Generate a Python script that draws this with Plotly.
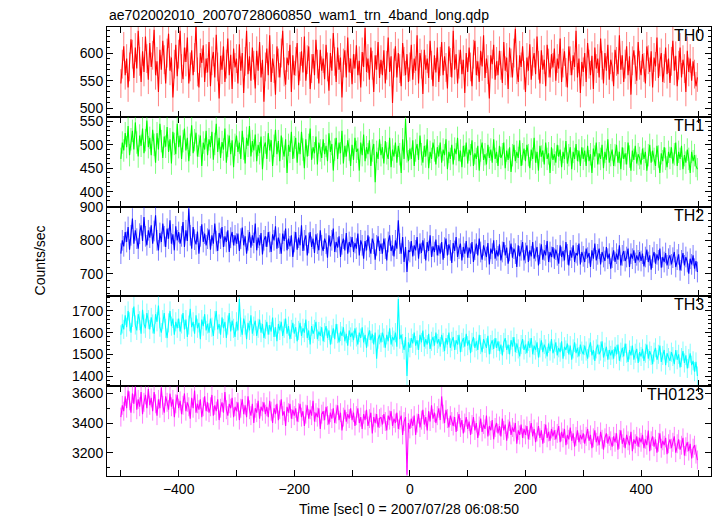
import plotly.graph_objects as go
from plotly.subplots import make_subplots

title_text = "ae702002010_20070728060850_wam1_trn_4band_long.qdp"
band_names = ["TH0", "TH1", "TH2", "TH3", "TH0123"]
x_label = "Time [sec] 0 = 2007/07/28 06:08:50"
y_label = "Counts/sec"

t_start = -500
t_step = 2.5

th0 = [
    545, 580, 612, 560, 590, 538, 575, 625, 598, 555, 610, 572, 640, 585, 548, 603, 566, 630, 590, 552,
    618, 575, 596, 642, 560, 585, 530, 606, 570, 622, 588, 545, 600, 635, 568, 592, 520, 580, 615, 558,
    598, 640, 572, 553, 610, 584, 628, 545, 575, 605, 560, 592, 650, 566, 538, 600, 582, 614, 548, 590,
    565, 620, 540, 586, 602, 556, 633, 575, 518, 595, 570, 612, 548, 580, 626, 560, 597, 535, 608, 574,
    590, 545, 616, 568, 600, 528, 585, 640, 562, 594, 550, 610, 578, 536, 604, 568, 620, 556, 588, 512,
    575, 608, 560, 632, 548, 590, 572, 525, 612, 582, 556, 600, 640, 566, 543, 592, 578, 615, 530, 596,
    560, 585, 618, 542, 576, 603, 565, 630, 550, 588, 612, 535, 572, 598, 560, 624, 580, 545, 606, 568,
    590, 553, 615, 575, 532, 600, 568, 636, 585, 548, 610, 570, 592, 520, 582, 605, 556, 628, 565, 590,
    544, 598, 572, 614, 560, 586, 538, 602, 575, 645, 566, 590, 552, 610, 578, 530, 596, 570, 620, 555,
    588, 560, 605, 545, 578, 628, 566, 594, 510, 582, 612, 556, 600, 572, 540, 618, 585, 560, 598, 548,
    575, 615, 552, 590, 568, 632, 545, 600, 580, 526, 606, 570, 590, 555, 622, 578, 540, 596, 565, 610,
    548, 585, 620, 560, 594, 574, 536, 612, 583, 556, 640, 570, 598, 545, 580, 606, 562, 588, 528, 600,
    566, 610, 575, 540, 598, 622, 560, 585, 548, 604, 576, 632, 555, 590, 570, 518, 596, 580, 615, 552,
    585, 560, 604, 578, 546, 620, 568, 592, 535, 610, 582, 556, 600, 644, 570, 548, 596, 575, 612, 560,
    530, 592, 568, 616, 552, 585, 600, 562, 630, 578, 545, 605, 570, 588, 540, 615, 582, 556, 598, 574,
    608, 550, 590, 572, 626, 548, 582, 603, 565, 538, 612, 586, 560, 596, 575, 640, 556, 590, 528, 584,
    566, 600, 548, 618, 580, 560, 595, 535, 610, 572, 590, 556, 626, 578, 545, 600, 568, 615, 552, 588,
    575, 540, 606, 585, 562, 632, 570, 596, 548, 580, 612, 560, 594, 525, 586, 605, 570, 550, 620, 578,
    560, 598, 574, 545, 612, 588, 566, 603, 538, 592, 576, 628, 555, 584, 600, 548, 572, 610, 562, 590,
    546, 585, 622, 568, 595, 540, 578, 610, 556, 588, 572, 530, 604, 566, 590, 550, 585, 562, 540, 556,
]
th1 = [
    470, 505, 488, 525, 495, 540, 478, 512, 530, 490, 548, 505, 475, 520, 498, 535, 482, 510, 552, 495,
    515, 478, 532, 500, 462, 525, 490, 545, 508, 472, 518, 496, 538, 485, 512, 460, 528, 502, 480, 545,
    495, 520, 470, 508, 535, 488, 515, 465, 500, 542, 482, 510, 526, 475, 498, 520, 455, 505, 490, 530,
    478, 512, 495, 528, 468, 502, 545, 485, 515, 472, 506, 490, 535, 462, 498, 520, 480, 510, 452, 500,
    520, 485, 505, 470, 530, 492, 460, 515, 498, 540, 475, 508, 488, 522, 465, 500, 482, 518, 448, 495,
    505, 470, 525, 488, 510, 455, 498, 532, 480, 508, 465, 520, 492, 475, 512, 440, 500, 485, 528, 470,
    495, 515, 462, 505, 480, 528, 490, 450, 512, 475, 500, 535, 468, 495, 482, 518, 458, 505, 488, 472,
    512, 480, 498, 465, 525, 485, 502, 445, 490, 515, 470, 505, 482, 530, 460, 498, 475, 510, 490, 455,
    500, 468, 515, 485, 492, 445, 505, 478, 522, 465, 495, 480, 510, 455, 488, 502, 420, 485, 470, 512,
    478, 495, 460, 508, 482, 470, 515, 452, 490, 475, 505, 462, 498, 480, 440, 512, 470, 555, 486, 465,
    492, 470, 510, 455, 488, 502, 468, 520, 480, 462, 498, 475, 512, 450, 485, 470, 505, 488, 458, 495,
    475, 505, 462, 490, 478, 512, 448, 485, 470, 500, 458, 492, 480, 515, 465, 488, 452, 498, 475, 505,
    460, 490, 478, 510, 455, 482, 470, 498, 445, 488, 505, 468, 480, 458, 500, 472, 490, 462, 512, 470,
    485, 455, 498, 472, 480, 505, 450, 488, 468, 495, 442, 478, 500, 465, 485, 472, 510, 455, 480, 492,
    465, 500, 478, 450, 490, 470, 515, 462, 485, 445, 498, 475, 488, 458, 505, 470, 482, 440, 495, 468,
    480, 462, 500, 475, 490, 452, 485, 470, 508, 460, 478, 495, 448, 485, 470, 502, 465, 488, 455, 495,
    470, 488, 455, 498, 465, 480, 440, 492, 475, 505, 458, 482, 470, 500, 450, 485, 468, 512, 462, 478,
    490, 455, 478, 500, 462, 485, 448, 495, 470, 482, 458, 505, 475, 445, 488, 468, 498, 460, 480, 472,
    458, 492, 470, 485, 445, 478, 500, 462, 488, 470, 455, 498, 475, 440, 482, 465, 495, 470, 452, 485,
    472, 495, 460, 480, 505, 455, 485, 470, 498, 448, 478, 462, 490, 470, 440, 485, 465, 478, 455, 448,
]
th2 = [
    760, 800, 782, 825, 795, 840, 772, 815, 865, 790, 830, 805, 775, 820, 845, 798, 870, 812, 785, 830,
    808, 845, 790, 828, 875, 800, 770, 822, 795, 850, 812, 780, 835, 805, 860, 790, 818, 770, 842, 800,
    825, 790, 812, 855, 780, 830, 798, 895, 815, 775, 840, 802, 788, 826, 760, 812, 848, 795, 820, 785,
    805, 832, 772, 815, 790, 850, 798, 768, 822, 805, 840, 780, 812, 795, 830, 765, 808, 825, 785, 815,
    790, 820, 768, 805, 838, 785, 812, 760, 800, 825, 778, 815, 792, 850, 770, 808, 785, 822, 758, 800,
    812, 780, 825, 795, 765, 818, 800, 842, 775, 808, 790, 760, 820, 798, 835, 770, 805, 782, 815, 750,
    795, 825, 772, 808, 785, 845, 768, 800, 815, 755, 792, 825, 780, 805, 762, 818, 790, 770, 830, 785,
    768, 805, 790, 748, 815, 782, 800, 835, 765, 795, 778, 812, 750, 788, 805, 770, 822, 760, 795, 780,
    810, 765, 792, 775, 820, 755, 800, 785, 745, 798, 770, 815, 780, 760, 805, 790, 742, 785, 812, 768,
    790, 760, 805, 775, 740, 795, 815, 768, 785, 752, 800, 775, 860, 790, 760, 810, 735, 780, 705, 770,
    765, 798, 752, 785, 770, 810, 745, 790, 762, 800, 775, 740, 795, 768, 815, 750, 782, 765, 802, 755,
    785, 760, 795, 742, 778, 805, 755, 788, 770, 732, 792, 768, 810, 750, 775, 790, 740, 780, 760, 798,
    748, 778, 760, 795, 735, 772, 790, 755, 805, 765, 742, 785, 770, 750, 792, 728, 775, 760, 800, 745,
    770, 752, 788, 740, 765, 795, 755, 778, 730, 768, 790, 748, 775, 760, 720, 785, 752, 770, 795, 740,
    762, 785, 735, 770, 752, 795, 745, 768, 780, 725, 760, 788, 742, 770, 755, 798, 735, 765, 750, 780,
    745, 772, 755, 730, 785, 750, 768, 740, 795, 758, 725, 770, 748, 785, 735, 762, 755, 790, 728, 765,
    752, 735, 775, 748, 762, 720, 770, 745, 790, 740, 758, 775, 728, 765, 750, 738, 780, 745, 760, 715,
    748, 770, 735, 760, 742, 785, 725, 755, 768, 738, 750, 775, 720, 760, 745, 770, 732, 755, 740, 765,
    738, 760, 722, 750, 772, 735, 755, 712, 748, 765, 730, 758, 740, 775, 718, 750, 735, 762, 725, 745,
    755, 728, 748, 765, 720, 742, 758, 710, 740, 762, 725, 750, 735, 700, 745, 728, 755, 715, 738, 705,
]
th3 = [
    1590, 1640, 1615, 1680, 1625, 1700, 1650, 1600, 1670, 1720, 1635, 1610, 1685, 1655, 1595, 1705, 1640, 1620, 1690, 1660,
    1615, 1670, 1640, 1595, 1685, 1650, 1725, 1625, 1600, 1660, 1690, 1620, 1575, 1645, 1700, 1630, 1665, 1590, 1650, 1620,
    1665, 1605, 1640, 1690, 1615, 1660, 1580, 1635, 1710, 1625, 1650, 1595, 1680, 1620, 1645, 1570, 1660, 1630, 1685, 1610,
    1640, 1600, 1665, 1625, 1585, 1655, 1700, 1615, 1640, 1590, 1670, 1620, 1650, 1575, 1635, 1690, 1605, 1655, 1620, 1580,
    1650, 1610, 1755, 1625, 1590, 1665, 1635, 1570, 1645, 1610, 1680, 1595, 1630, 1655, 1585, 1620, 1660, 1600, 1640, 1575,
    1615, 1650, 1590, 1635, 1605, 1670, 1580, 1625, 1560, 1640, 1610, 1650, 1585, 1620, 1665, 1595, 1630, 1570, 1615, 1645,
    1595, 1625, 1560, 1610, 1645, 1585, 1620, 1600, 1660, 1575, 1610, 1545, 1630, 1595, 1615, 1650, 1570, 1605, 1585, 1625,
    1560, 1600, 1630, 1575, 1610, 1545, 1590, 1620, 1570, 1640, 1595, 1555, 1605, 1585, 1625, 1560, 1595, 1540, 1610, 1580,
    1600, 1565, 1620, 1580, 1545, 1600, 1575, 1625, 1555, 1590, 1530, 1580, 1610, 1565, 1595, 1545, 1600, 1480, 1570, 1590,
    1555, 1600, 1575, 1530, 1590, 1560, 1620, 1545, 1580, 1565, 1600, 1535, 1755, 1570, 1590, 1550, 1520, 1580, 1400, 1555,
    1530, 1575, 1550, 1600, 1540, 1565, 1520, 1590, 1555, 1610, 1535, 1570, 1545, 1595, 1525, 1560, 1580, 1540, 1600, 1550,
    1570, 1535, 1590, 1555, 1515, 1575, 1545, 1600, 1530, 1560, 1580, 1520, 1565, 1545, 1590, 1510, 1555, 1575, 1535, 1595,
    1540, 1565, 1505, 1555, 1580, 1530, 1560, 1520, 1590, 1545, 1510, 1570, 1550, 1530, 1585, 1500, 1545, 1565, 1525, 1575,
    1530, 1560, 1515, 1545, 1495, 1555, 1575, 1520, 1545, 1500, 1565, 1535, 1580, 1510, 1550, 1525, 1490, 1545, 1570, 1520,
    1545, 1505, 1560, 1530, 1575, 1500, 1540, 1520, 1555, 1485, 1530, 1565, 1510, 1545, 1525, 1490, 1550, 1515, 1570, 1505,
    1525, 1555, 1495, 1530, 1510, 1560, 1480, 1535, 1520, 1550, 1500, 1540, 1475, 1525, 1555, 1505, 1530, 1490, 1545, 1515,
    1500, 1540, 1515, 1480, 1530, 1555, 1495, 1520, 1470, 1525, 1545, 1500, 1515, 1560, 1485, 1510, 1535, 1475, 1520, 1495,
    1520, 1480, 1535, 1500, 1545, 1470, 1510, 1530, 1490, 1550, 1505, 1465, 1520, 1495, 1540, 1475, 1505, 1525, 1460, 1510,
    1490, 1525, 1470, 1505, 1545, 1480, 1515, 1495, 1455, 1510, 1530, 1475, 1500, 1540, 1465, 1495, 1520, 1450, 1505, 1485,
    1470, 1510, 1490, 1455, 1520, 1475, 1500, 1440, 1485, 1515, 1460, 1495, 1435, 1480, 1505, 1450, 1470, 1420, 1465, 1400,
]
th0123 = [
    3440, 3520, 3480, 3580, 3500, 3620, 3550, 3470, 3600, 3530, 3645, 3490, 3560, 3510, 3610, 3460, 3540, 3590, 3500, 3630,
    3520, 3570, 3480, 3610, 3530, 3450, 3560, 3500, 3640, 3520, 3470, 3580, 3540, 3490, 3600, 3510, 3560, 3440, 3530, 3590,
    3500, 3550, 3460, 3520, 3600, 3480, 3540, 3510, 3430, 3570, 3500, 3620, 3470, 3530, 3490, 3560, 3440, 3510, 3580, 3480,
    3540, 3470, 3510, 3590, 3450, 3520, 3480, 3560, 3420, 3500, 3540, 3470, 3610, 3490, 3450, 3530, 3500, 3570, 3440, 3510,
    3480, 3540, 3420, 3500, 3560, 3460, 3520, 3440, 3580, 3490, 3450, 3530, 3400, 3500, 3470, 3550, 3430, 3510, 3480, 3540,
    3460, 3510, 3440, 3550, 3480, 3400, 3500, 3460, 3530, 3420, 3490, 3560, 3450, 3480, 3380, 3510, 3470, 3530, 3430, 3490,
    3450, 3500, 3410, 3470, 3530, 3440, 3480, 3380, 3460, 3520, 3430, 3490, 3450, 3550, 3410, 3470, 3440, 3500, 3360, 3460,
    3480, 3420, 3510, 3450, 3390, 3470, 3430, 3500, 3400, 3460, 3520, 3420, 3470, 3350, 3440, 3490, 3410, 3460, 3430, 3500,
    3420, 3470, 3380, 3450, 3500, 3400, 3440, 3360, 3460, 3420, 3490, 3380, 3430, 3470, 3330, 3440, 3400, 3460, 3370, 3430,
    3440, 3390, 3460, 3410, 3350, 3450, 3420, 3480, 3380, 3430, 3400, 3470, 3360, 3420, 3450, 3320, 3410, 3440, 3050, 3400,
    3360, 3430, 3380, 3450, 3320, 3400, 3460, 3370, 3420, 3490, 3390, 3440, 3350, 3480, 3410, 3520, 3430, 3470, 3400, 3450,
    3500, 3420, 3580, 3460, 3400, 3490, 3430, 3370, 3450, 3410, 3380, 3440, 3340, 3410, 3460, 3370, 3420, 3330, 3400, 3440,
    3360, 3410, 3320, 3390, 3440, 3350, 3400, 3300, 3380, 3430, 3340, 3390, 3360, 3450, 3310, 3380, 3350, 3420, 3290, 3370,
    3400, 3330, 3380, 3310, 3430, 3350, 3390, 3280, 3360, 3410, 3320, 3370, 3340, 3400, 3260, 3350, 3320, 3390, 3300, 3360,
    3320, 3380, 3290, 3350, 3400, 3310, 3360, 3270, 3340, 3380, 3300, 3350, 3260, 3330, 3390, 3300, 3340, 3280, 3360, 3310,
    3350, 3290, 3330, 3380, 3270, 3340, 3300, 3360, 3250, 3320, 3290, 3370, 3280, 3330, 3240, 3310, 3350, 3270, 3320, 3290,
    3330, 3260, 3310, 3360, 3280, 3320, 3230, 3300, 3350, 3270, 3310, 3250, 3340, 3290, 3220, 3300, 3330, 3260, 3310, 3280,
    3240, 3310, 3270, 3330, 3220, 3290, 3350, 3260, 3300, 3230, 3320, 3280, 3250, 3340, 3210, 3290, 3260, 3310, 3240, 3300,
    3270, 3320, 3230, 3290, 3250, 3350, 3210, 3280, 3310, 3240, 3290, 3200, 3270, 3330, 3230, 3280, 3250, 3300, 3190, 3260,
    3290, 3230, 3270, 3310, 3200, 3260, 3290, 3220, 3250, 3300, 3180, 3240, 3270, 3210, 3260, 3160, 3230, 3250, 3190, 3150,
]
band_errors = [26, 24, 31, 44, 64]

series = [th0, th1, th2, th3, th0123]
line_colors = ["#ff0000", "#00ff00", "#0000ff", "#00ffff", "#ff00ff"]
err_colors = ["rgba(255,0,0,0.5)", "rgba(0,255,0,0.5)", "rgba(0,0,255,0.5)",
              "rgba(0,255,255,0.5)", "rgba(255,0,255,0.5)"]
y_ranges = [[485, 647], [368, 560], [632, 901], [1353, 1767], [3042, 3649]]
y_dticks = [50, 50, 100, 100, 200]
y_minor = [10, 10, 20, 20, 100]
x_range = [-524, 521]

fig = make_subplots(rows=5, cols=1, shared_xaxes=True, vertical_spacing=0)

for i, (vals, name) in enumerate(zip(series, band_names)):
    times = [t_start + t_step * k for k in range(len(vals))]
    fig.add_trace(go.Scatter(
        x=times, y=vals, mode="lines", name=name,
        line=dict(color=line_colors[i], width=1.1),
        error_y=dict(type="constant", value=band_errors[i], color=err_colors[i],
                     thickness=1, width=0),
        showlegend=False,
    ), row=i + 1, col=1)

font_family = "Liberation Sans, Arial, sans-serif"
for i in range(5):
    fig.update_yaxes(
        range=y_ranges[i], dtick=y_dticks[i], ticks="inside", ticklen=6,
        tickcolor="black", showline=True, linecolor="black", linewidth=1,
        mirror="allticks", showgrid=False, zeroline=False,
        tickfont=dict(size=14, color="black", family=font_family),
        minor=dict(dtick=y_minor[i], ticks="inside", ticklen=3, tickcolor="black"),
        row=i + 1, col=1)
    fig.update_xaxes(
        range=x_range, dtick=200, tick0=0, ticks="inside", ticklen=6,
        tickcolor="black", showline=True, linecolor="black", linewidth=1,
        mirror="allticks", showgrid=False, zeroline=False,
        showticklabels=(i == 4),
        tickfont=dict(size=14, color="black", family=font_family),
        minor=dict(dtick=100, ticks="inside", ticklen=6, tickcolor="black"),
        row=i + 1, col=1)

annotations = [
    dict(text=title_text, x=0, y=1, xref="paper", yref="paper", xanchor="left",
         yanchor="bottom", yshift=2, showarrow=False,
         font=dict(size=14, color="black", family=font_family)),
    dict(text=x_label, x=0.5, y=0, xref="paper", yref="paper", xanchor="center",
         yanchor="top", yshift=-23, showarrow=False,
         font=dict(size=14, color="black", family=font_family)),
    dict(text=y_label, x=0, y=0.48, xref="paper", yref="paper", xanchor="center",
         yanchor="middle", xshift=-67, textangle=-90, showarrow=False,
         font=dict(size=14, color="black", family=font_family)),
]
for i, name in enumerate(band_names):
    yref = "y domain" if i == 0 else f"y{i + 1} domain"
    annotations.append(dict(text=name, x=1, y=1, xref="paper", yref=yref,
                            xanchor="right", yanchor="top", xshift=-5, yshift=2,
                            showarrow=False,
                            font=dict(size=16, color="black", family=font_family)))

fig.update_layout(
    width=717, height=516,
    margin=dict(l=107, r=6, t=27, b=40),
    paper_bgcolor="white", plot_bgcolor="white",
    annotations=annotations,
    font=dict(family=font_family, color="black"),
)

fig.write_html("out.html",
               config={"displayModeBar": False},
               post_script="document.body.style.margin='0';"
                           "document.body.style.overflow='hidden';")
